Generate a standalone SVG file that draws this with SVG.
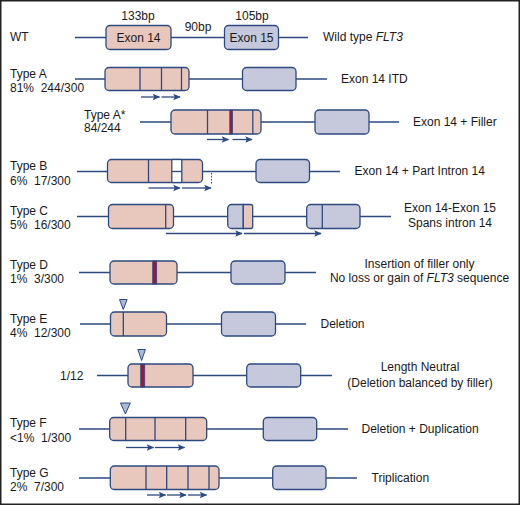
<svg xmlns="http://www.w3.org/2000/svg" width="520" height="505" viewBox="0 0 520 505">
<defs>
<style>
.t{font-family:"Liberation Sans","Lato",Arial,sans-serif;font-size:12px;fill:#1a1a1a;white-space:pre}
.m{text-anchor:middle}
.bb{stroke:#2c4a80;stroke-width:1.3;fill:none}
.p{fill:#e8c7bc;stroke:#2c4a80;stroke-width:1.3}
.b{fill:#c6c8dc;stroke:#2c4a80;stroke-width:1.3}
.d{stroke:#2c4a80;stroke-width:1.3}
.r{fill:#a0153e;stroke:#2c4a80;stroke-width:0.8}
.ar{stroke:#2c4a80;stroke-width:1.3;fill:none;marker-end:url(#ah)}
.tri{fill:#a9b9d9;stroke:#2c4a80;stroke-width:1}
</style>
<marker id="ah" viewBox="0 0 10 10" refX="9" refY="5" markerWidth="7.5" markerHeight="6.5" markerUnits="userSpaceOnUse" orient="auto" preserveAspectRatio="none" overflow="visible">
<path d="M0,0 L10,5 L0,10 L2,5 Z" fill="#2c4a80"/>
</marker>
</defs>
<rect x="0.75" y="0.75" width="518.5" height="503.5" fill="#fff" stroke="#222" stroke-width="1.5"/>

<g id="connectors">
<line class="bb" x1="75" y1="37.5" x2="308" y2="37.5"/>
<line class="bb" x1="75" y1="79" x2="327" y2="79"/>
<line class="bb" x1="140" y1="122" x2="399" y2="122"/>
<line class="bb" x1="77" y1="171.5" x2="340" y2="171.5"/>
<line class="bb" x1="77" y1="216.5" x2="391" y2="216.5"/>
<line class="bb" x1="79" y1="272.5" x2="316" y2="272.5"/>
<line class="bb" x1="80" y1="324" x2="306" y2="324"/>
<line class="bb" x1="97" y1="375.5" x2="332" y2="375.5"/>
<line class="bb" x1="79" y1="429" x2="348" y2="429"/>
<line class="bb" x1="79" y1="478" x2="357" y2="478"/>
<line class="ar" x1="141" y1="97" x2="159.5" y2="97"/>
<line class="ar" x1="161.5" y1="97" x2="180" y2="97"/>
<line class="ar" x1="207" y1="139.5" x2="228.5" y2="139.5"/>
<line class="ar" x1="232.5" y1="139.5" x2="252" y2="139.5"/>
<line class="ar" x1="148.5" y1="188" x2="180" y2="188"/>
<line class="ar" x1="182" y1="188" x2="211" y2="188"/>
<line class="ar" x1="166" y1="233.5" x2="242" y2="233.5"/>
<line class="ar" x1="244" y1="233.5" x2="321" y2="233.5"/>
<line class="ar" x1="126" y1="447.5" x2="153.5" y2="447.5"/>
<line class="ar" x1="155" y1="447.5" x2="184.5" y2="447.5"/>
<line class="ar" x1="147" y1="495" x2="165.5" y2="495"/>
<line class="ar" x1="167" y1="495" x2="186" y2="495"/>
<line class="ar" x1="188" y1="495" x2="206.5" y2="495"/>
<line x1="211.5" y1="173" x2="211.5" y2="184" stroke="#2c4a80" stroke-width="1" stroke-dasharray="1.5,1.5"/>
</g>

<g id="wt">
<text class="t" x="10" y="41">WT</text>
<text class="t m" x="138" y="20">133bp</text>
<text class="t m" x="198" y="31">90bp</text>
<text class="t m" x="252" y="20">105bp</text>
<text class="t" x="323" y="41">Wild type <tspan font-style="italic">FLT3</tspan></text>
</g>
<g id="wt-exon14"><rect class="p" x="106" y="25.5" width="65" height="24" rx="4"/><text class="t m" x="138.5" y="41.5">Exon 14</text></g>
<g id="wt-exon15"><rect class="b" x="224.5" y="25.5" width="54" height="24" rx="4"/><text class="t m" x="251.5" y="41.5">Exon 15</text></g>

<g id="typeA">
<text class="t" x="10" y="77.5">Type A</text>
<text class="t" x="10" y="91.5">81%  244/300</text>
<text class="t" x="341" y="83">Exon 14 ITD</text>
</g>
<g id="typeA-exon14"><rect class="p" x="105" y="67.5" width="84" height="23" rx="4"/>
<line class="d" x1="140" y1="67.5" x2="140" y2="90.5"/><line class="d" x1="161.5" y1="67.5" x2="161.5" y2="90.5"/><line class="d" x1="181.5" y1="67.5" x2="181.5" y2="90.5"/></g>
<g id="typeA-exon15"><rect class="b" x="242.5" y="67.5" width="53.5" height="23" rx="4"/></g>

<g id="typeAstar">
<text class="t" x="84" y="119">Type A*</text>
<text class="t" x="84" y="132">84/244</text>
<text class="t" x="413" y="126">Exon 14 + Filler</text>
</g>
<g id="typeAstar-exon14"><rect class="p" x="171" y="110" width="90" height="24" rx="4"/>
<line class="d" x1="207.5" y1="110" x2="207.5" y2="134"/><rect class="r" x="229.8" y="110" width="2.6" height="24"/><line class="d" x1="252.8" y1="110" x2="252.8" y2="134"/></g>
<g id="typeAstar-exon15"><rect class="b" x="315" y="110" width="54" height="24" rx="4"/></g>

<g id="typeB">
<text class="t" x="10" y="170">Type B</text>
<text class="t" x="10" y="185">6%  17/300</text>
<text class="t" x="354.5" y="175">Exon 14 + Part Intron 14</text>
</g>
<g id="typeB-exon14"><rect class="p" x="107.5" y="159.5" width="95" height="23" rx="4"/>
<rect x="171.8" y="159.5" width="10" height="23" fill="#fff" stroke="none"/>
<line class="d" x1="171.8" y1="171.5" x2="181.8" y2="171.5"/>
<line class="d" x1="148.5" y1="159.5" x2="148.5" y2="182.5"/><line class="d" x1="171.8" y1="159.5" x2="171.8" y2="182.5"/><line class="d" x1="181.8" y1="159.5" x2="181.8" y2="182.5"/>
<line class="d" x1="171.8" y1="159.5" x2="181.8" y2="159.5"/><line class="d" x1="171.8" y1="182.5" x2="181.8" y2="182.5"/></g>
<g id="typeB-exon15"><rect class="b" x="256" y="159.5" width="53.5" height="23" rx="4"/></g>

<g id="typeC">
<text class="t" x="10" y="215">Type C</text>
<text class="t" x="10" y="228.5">5%  16/300</text>
<text class="t m" x="450" y="212">Exon 14-Exon 15</text>
<text class="t m" x="450" y="226.5">Spans intron 14</text>
</g>
<g id="typeC-exon14"><rect class="p" x="108.5" y="204.5" width="65" height="24" rx="4"/><line class="d" x1="165.7" y1="204.5" x2="165.7" y2="228.5"/></g>
<g id="typeC-mid"><path class="b" d="M243.3,204.5 H231.7 A4,4 0 0 0 227.7,208.5 V224.5 A4,4 0 0 0 231.7,228.5 H243.3 Z"/>
<path class="p" d="M243.3,204.5 H250.7 A2,2 0 0 1 252.7,206.5 V226.5 A2,2 0 0 1 250.7,228.5 H243.3 Z"/></g>
<g id="typeC-exon15"><rect class="b" x="306.7" y="204.5" width="53.3" height="24" rx="4"/><line class="d" x1="322.3" y1="204.5" x2="322.3" y2="228.5"/></g>

<g id="typeD">
<text class="t" x="10" y="268.5">Type D</text>
<text class="t" x="10" y="283">1%  3/300</text>
<text class="t m" x="419.5" y="267.5">Insertion of filler only</text>
<text class="t m" x="419.5" y="282">No loss or gain of <tspan font-style="italic">FLT3</tspan> sequence</text>
</g>
<g id="typeD-exon14"><rect class="p" x="110" y="261" width="67" height="23" rx="4"/><rect class="r" x="152.7" y="261" width="4" height="23"/></g>
<g id="typeD-exon15"><rect class="b" x="231" y="261" width="54" height="23" rx="4"/></g>

<g id="typeE">
<text class="t" x="10" y="323">Type E</text>
<text class="t" x="10" y="336.5">4%  12/300</text>
<text class="t" x="320.5" y="327.5">Deletion</text>
</g>
<g id="typeE-exon14"><rect class="p" x="110.5" y="312" width="56" height="24" rx="4"/><line class="d" x1="123.3" y1="312" x2="123.3" y2="336"/>
<path class="tri" d="M119.5,299.5 H127.1 L123.3,309.5 Z"/></g>
<g id="typeE-exon15"><rect class="b" x="221.5" y="312" width="54" height="24" rx="4"/></g>

<g id="lengthNeutral">
<text class="t" x="60" y="379.5">1/12</text>
<text class="t m" x="420" y="371">Length Neutral</text>
<text class="t m" x="420" y="386.5">(Deletion balanced by filler)</text>
</g>
<g id="ln-exon14"><rect class="p" x="128" y="364" width="65" height="23" rx="4"/><rect class="r" x="140.7" y="364" width="4" height="23"/>
<path class="tri" d="M137.8,349.5 H145.4 L141.6,360.5 Z"/></g>
<g id="ln-exon15"><rect class="b" x="246.7" y="364" width="54" height="23" rx="4"/></g>

<g id="typeF">
<text class="t" x="10" y="427">Type F</text>
<text class="t" x="10" y="442">&lt;1%  1/300</text>
<text class="t" x="361.5" y="432.5">Deletion + Duplication</text>
</g>
<g id="typeF-exon14"><rect class="p" x="109.7" y="417.5" width="97" height="23" rx="4"/>
<line class="d" x1="125.7" y1="417.5" x2="125.7" y2="440.5"/><line class="d" x1="155" y1="417.5" x2="155" y2="440.5"/><line class="d" x1="185.7" y1="417.5" x2="185.7" y2="440.5"/>
<path class="tri" d="M120.5,403 H130.3 L125.4,414 Z"/></g>
<g id="typeF-exon15"><rect class="b" x="263.3" y="417.5" width="53.4" height="23" rx="4"/></g>

<g id="typeG">
<text class="t" x="10" y="476.5">Type G</text>
<text class="t" x="10" y="490.5">2%  7/300</text>
<text class="t" x="371.5" y="481.5">Triplication</text>
</g>
<g id="typeG-exon14"><rect class="p" x="110.3" y="466" width="108.7" height="23.5" rx="4"/>
<line class="d" x1="146" y1="466" x2="146" y2="489.5"/><line class="d" x1="166.7" y1="466" x2="166.7" y2="489.5"/><line class="d" x1="188" y1="466" x2="188" y2="489.5"/><line class="d" x1="209" y1="466" x2="209" y2="489.5"/></g>
<g id="typeG-exon15"><rect class="b" x="272.7" y="466" width="53.3" height="23.5" rx="4"/></g>
</svg>
